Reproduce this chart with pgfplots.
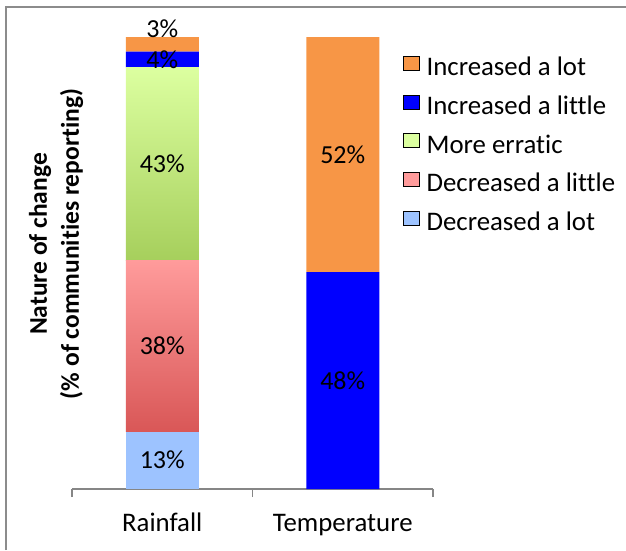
\documentclass[border=0pt]{standalone}
\usepackage{fontspec}
\setmainfont{Carlito}[Ligatures={NoCommon}]
\usepackage{pgfplots}
\pgfplotsset{compat=1.18}
\definecolor{cOrange}{RGB}{247,150,70}
\definecolor{cBlue}{RGB}{0,0,255}
\definecolor{cGreen}{RGB}{220,255,160}
\definecolor{cGreenMid}{RGB}{214,249,152}
\definecolor{cGreenDark}{RGB}{166,207,92}
\definecolor{cPink}{RGB}{255,155,155}
\definecolor{cPinkMid}{RGB}{255,152,152}
\definecolor{cPinkDark}{RGB}{217,87,87}
\definecolor{cLBlue}{RGB}{157,195,255}
\definecolor{cFrame}{RGB}{140,140,140}
\definecolor{cAxis}{RGB}{134,134,134}
\newcommand{\fs}{\fontsize{26}{30}\selectfont}
\newcommand{\fl}{\fontsize{26.8}{30}\selectfont}
\begin{document}
\begin{tikzpicture}[x=1pt,y=1pt]
\useasboundingbox (0,0) rectangle (626,550);
\draw[cFrame, line width=1.5pt] (6,0) -- (6,543) -- (626,543);
\begin{axis}[
  at={(72pt,61pt)}, anchor=south west,
  scale only axis, width=361pt, height=452pt,
  ybar stacked, bar width=73pt,
  xmin=-0.5, xmax=1.5, ymin=0, ymax=100,
  clip=false,
  axis x line*=bottom, axis y line*=left,
  y axis line style={draw=none}, ytick=\empty,
  x axis line style={cAxis, line width=1.5pt},
  xtick={-0.5,0.5,1.5}, x tick label as interval,
  xticklabels={Rainfall,Temperature},
  tick align=outside, major tick length=8pt,
  xtick style={cAxis, line width=1.5pt},
  xticklabel style={font=\fl, anchor=base, yshift=-34pt},
  ylabel={Nature of change\\(\% of communities reporting)},
  ylabel style={font=\bfseries\fontsize{25.5}{32}\selectfont, align=center,
    at={(axis description cs:-0.044,0.542)}, anchor=center},
  legend style={at={(0.917,0.958)}, anchor=north west, draw=none, fill=none,
    font=\fl, inner sep=0pt, row sep=13.9pt,
    nodes={inner ysep=0pt, inner xsep=7pt, text height=17pt, text depth=5pt}},
  legend cell align=left,
  legend image code/.code={\fill[#1] (0pt,-0.5pt) rectangle (16pt,13.5pt);},
]
% Decreased a lot
\addplot[forget plot, draw=none, fill=cLBlue] coordinates {(0,12.7) (1,0)};
% Decreased a little
\addplot[forget plot, draw=none, top color=cPink, middle color=cPinkMid, bottom color=cPinkDark] coordinates {(0,37.8) (1,0)};
% More erratic
\addplot[forget plot, draw=none, top color=cGreen, middle color=cGreenMid, bottom color=cGreenDark] coordinates {(0,42.8) (1,0)};
% Increased a little
\addplot[forget plot, draw=none, fill=cBlue] coordinates {(0,3.45) (1,48)};
% Increased a lot
\addplot[forget plot, draw=none, fill=cOrange] coordinates {(0,3.25) (1,52)};
\addlegendimage{fill=cOrange}
\addlegendentry{Increased a lot}
\addlegendimage{fill=cBlue}
\addlegendentry{Increased a little}
\addlegendimage{fill=cGreen}
\addlegendentry{More erratic}
\addlegendimage{fill=cPink}
\addlegendentry{Decreased a little}
\addlegendimage{fill=cLBlue}
\addlegendentry{Decreased a lot}
\coordinate (lA) at (axis cs:0,6.4);
\coordinate (lB) at (axis cs:0,31.6);
\coordinate (lC) at (axis cs:0,71.9);
\coordinate (lD) at (axis cs:0,95.0);
\coordinate (lE) at (axis cs:0,101.8);
\coordinate (lF) at (axis cs:1,74);
\coordinate (lG) at (axis cs:1,24);
\end{axis}
\node[font=\fs] at (lA) {13\%};
\node[font=\fs] at (lB) {38\%};
\node[font=\fs] at (lC) {43\%};
\node[font=\fs] at (lD) {4\%};
\node[font=\fs] at (lE) {3\%};
\node[font=\fs] at (lF) {52\%};
\node[font=\fs] at (lG) {48\%};
\end{tikzpicture}
\end{document}
